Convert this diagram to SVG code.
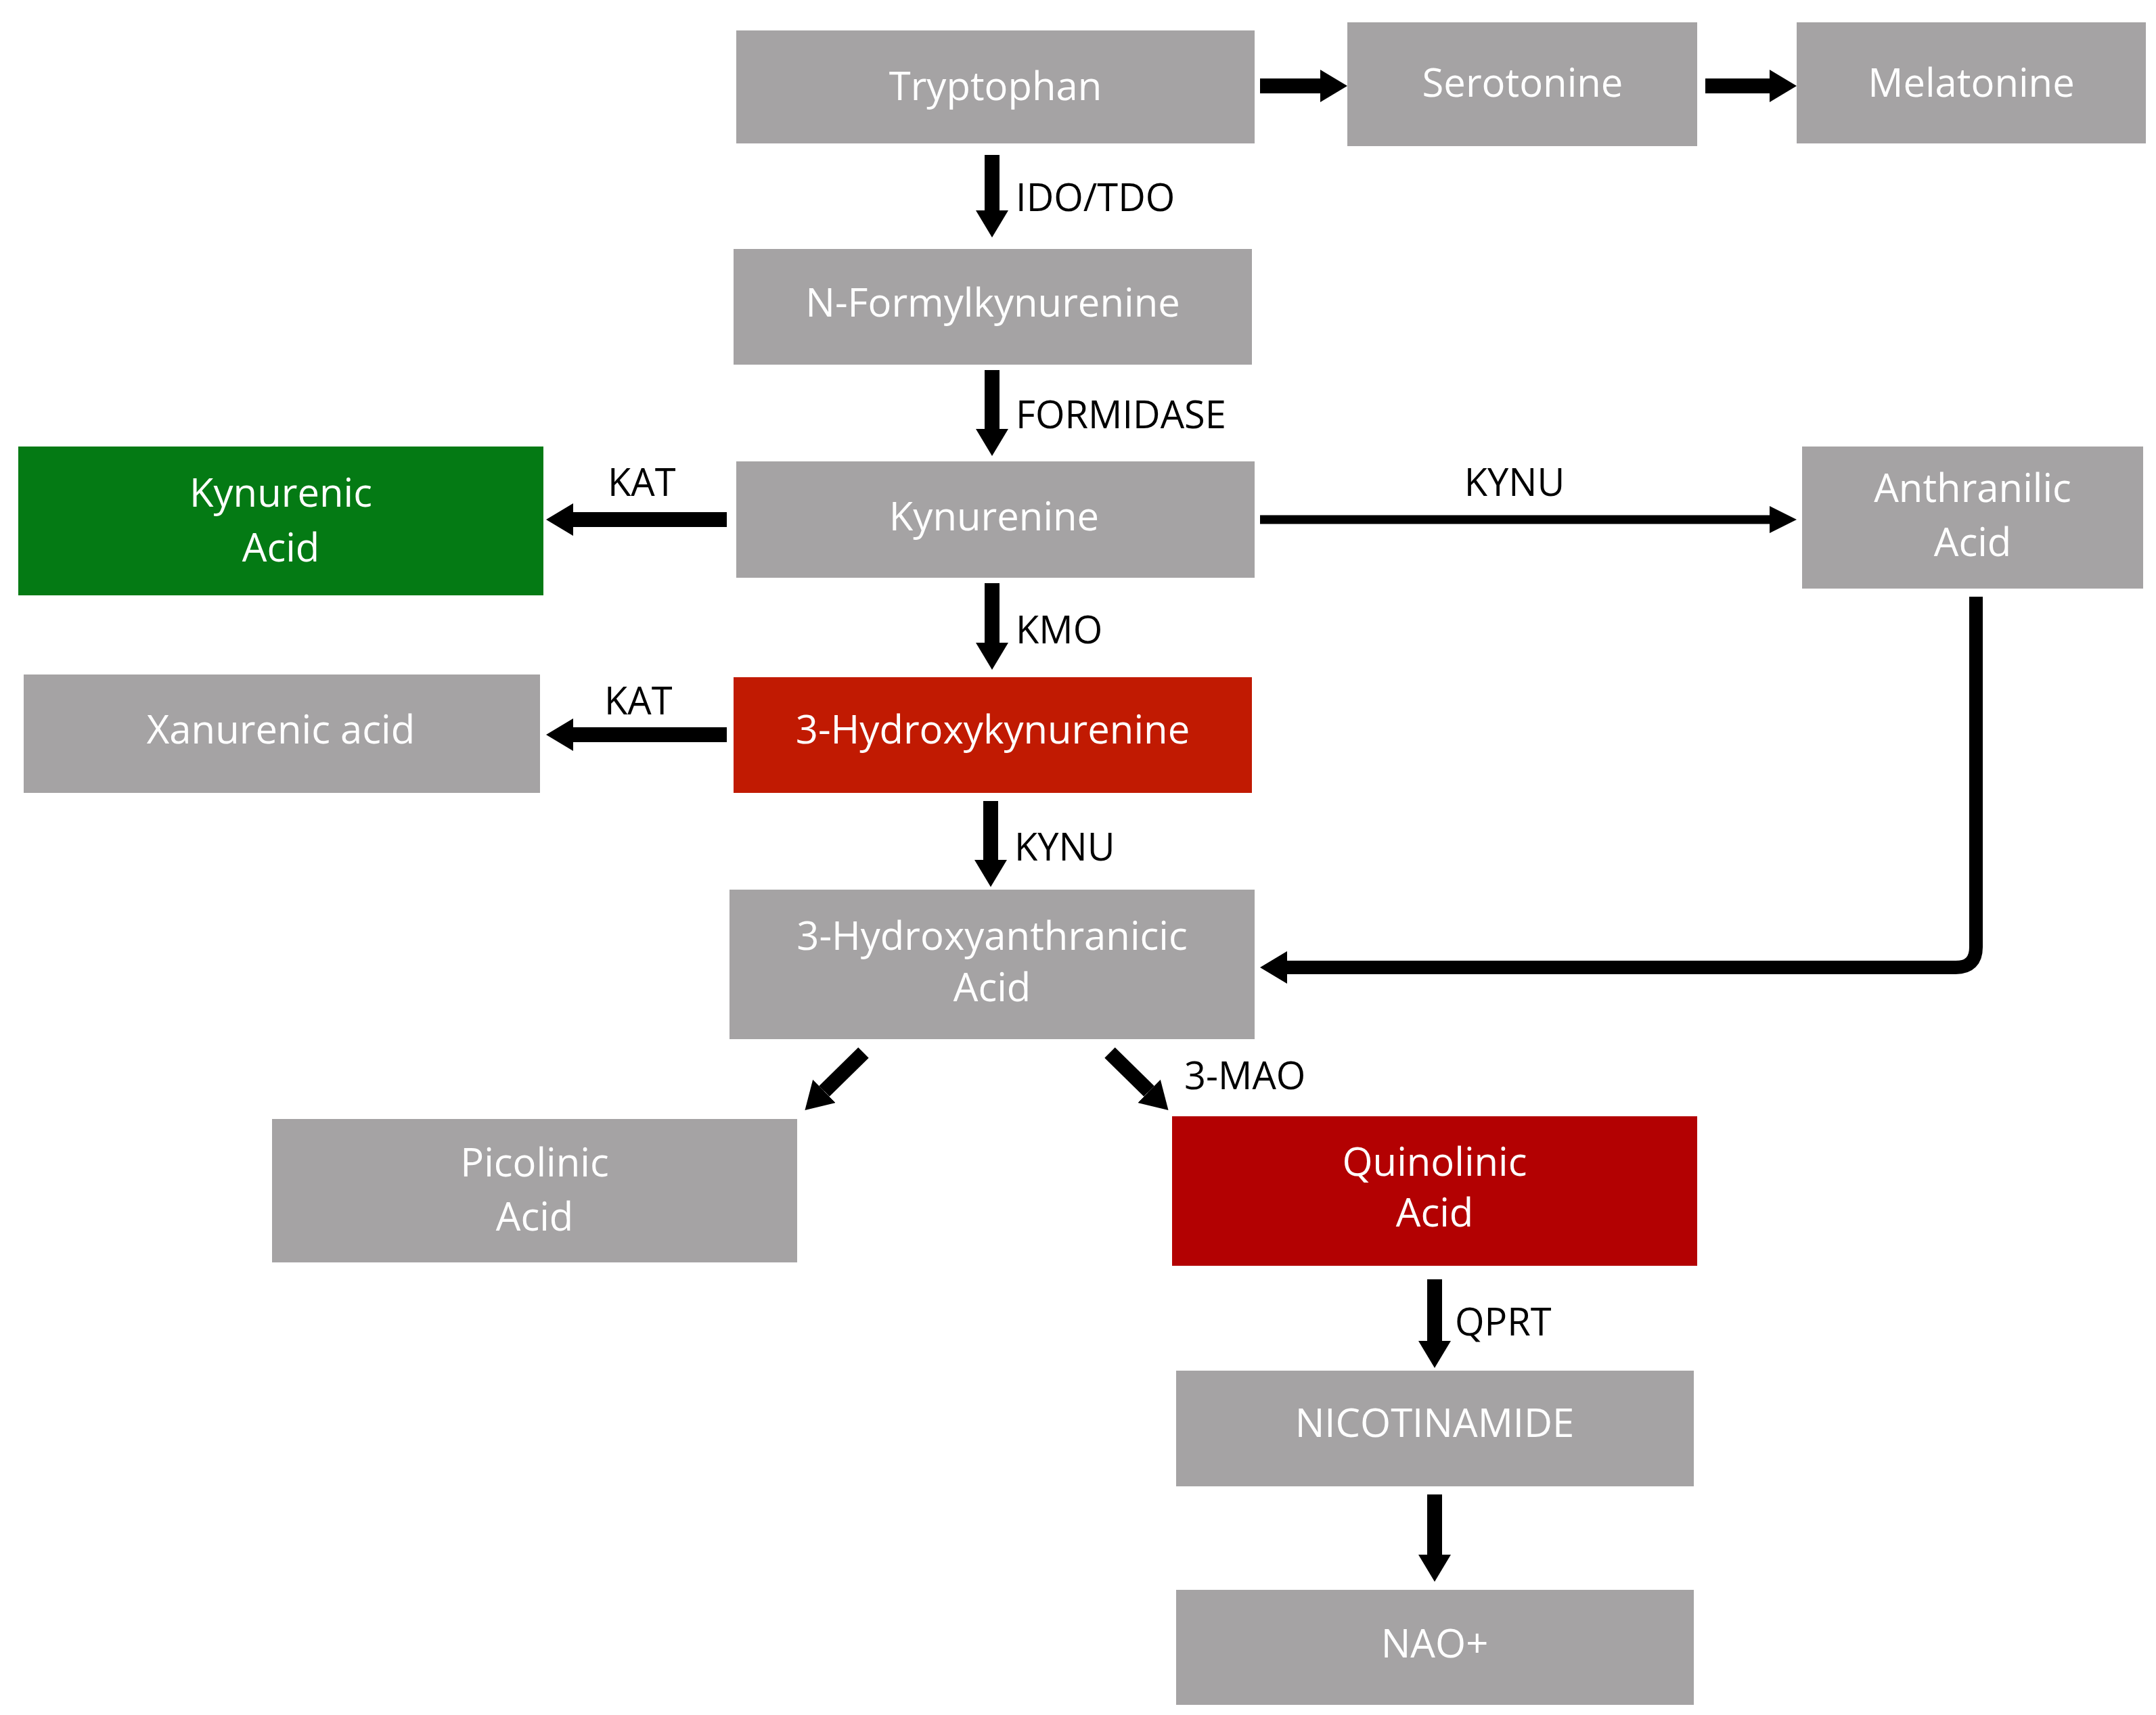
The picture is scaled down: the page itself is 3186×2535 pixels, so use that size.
<svg xmlns="http://www.w3.org/2000/svg" width="3186" height="2535" viewBox="0 0 3186 2535">
<style>
.n{fill:#a5a3a4}
.t{font-family:"Open Sans","Noto Sans",sans-serif;font-size:58px;fill:#fff;text-anchor:middle}
.l{font-family:"Open Sans","Noto Sans",sans-serif;font-size:56px;fill:#000}
.c{stroke:#000;fill:none;stroke-width:22;marker-end:url(#h)}
.k{stroke:#000;fill:none;stroke-width:13;marker-end:url(#h2)}
</style>
<defs>
<marker id="h" markerUnits="userSpaceOnUse" viewBox="0 0 40 48" markerWidth="40" markerHeight="48" refX="0" refY="24" orient="auto"><path d="M0,0 L40,24 L0,48 z"/></marker>
<marker id="h2" markerUnits="userSpaceOnUse" viewBox="0 0 40 40" markerWidth="40" markerHeight="40" refX="0" refY="20" orient="auto"><path d="M0,0 L40,20 L0,40 z"/></marker>
</defs>
<rect width="3186" height="2535" fill="#fff"/>
<g id="tryptophan"><rect class="n" x="1088" y="45" width="766" height="167"/><text class="t" x="1471" y="148">Tryptophan</text></g>
<g id="serotonine"><rect class="n" x="1991" y="33" width="517" height="183"/><text class="t" x="2250" y="143">Serotonine</text></g>
<g id="melatonine"><rect class="n" x="2655" y="33" width="516" height="179"/><text class="t" x="2913" y="143">Melatonine</text></g>
<g id="nformyl"><rect class="n" x="1084" y="368" width="766" height="171"/><text class="t" x="1467" y="468">N-Formylkynurenine</text></g>
<g id="kynurenine"><rect class="n" x="1088" y="682" width="766" height="172"/><text class="t" x="1469" y="784">Kynurenine</text></g>
<g id="kynurenic"><rect fill="#047a14" x="27" y="660" width="776" height="220"/><text class="t" x="415" y="749">Kynurenic</text><text class="t" x="415" y="830">Acid</text></g>
<g id="anthranilic"><rect class="n" x="2663" y="660" width="504" height="210"/><text class="t" x="2915" y="742">Anthranilic</text><text class="t" x="2915" y="822">Acid</text></g>
<g id="xanurenic"><rect class="n" x="35" y="997" width="763" height="175"/><text class="t" x="415" y="1099">Xanurenic acid</text></g>
<g id="hydroxykyn"><rect fill="#c11a02" x="1084" y="1001" width="766" height="171"/><text class="t" x="1467" y="1099">3-Hydroxykynurenine</text></g>
<g id="haa"><rect class="n" x="1078" y="1315" width="776" height="221"/><text class="t" x="1466" y="1404">3-Hydroxyanthranicic</text><text class="t" x="1466" y="1480">Acid</text></g>
<g id="picolinic"><rect class="n" x="402" y="1654" width="776" height="212"/><text class="t" x="790" y="1739">Picolinic</text><text class="t" x="790" y="1819">Acid</text></g>
<g id="quinolinic"><rect fill="#b30102" x="1732" y="1650" width="776" height="221"/><text class="t" x="2120" y="1738">Quinolinic</text><text class="t" x="2120" y="1813">Acid</text></g>
<g id="nicotinamide"><rect class="n" x="1738" y="2026" width="765" height="171"/><text class="t" x="2120" y="2124">NICOTINAMIDE</text></g>
<g id="nao"><rect class="n" x="1738" y="2350" width="765" height="170"/><text class="t" x="2120" y="2450">NAO+</text></g>
<g id="connectors">
<line class="c" x1="1862" y1="127" x2="1951" y2="127"/>
<line class="c" x1="2520" y1="127" x2="2615" y2="127"/>
<line class="c" x1="1466" y1="229" x2="1466" y2="311"/>
<line class="c" x1="1466" y1="547" x2="1466" y2="634"/>
<line class="c" x1="1074" y1="768" x2="847" y2="768"/>
<line class="k" x1="1862" y1="768" x2="2615" y2="768"/>
<line class="c" x1="1466" y1="862" x2="1466" y2="950"/>
<line class="c" x1="1074" y1="1086" x2="847" y2="1086"/>
<line class="c" x1="1464" y1="1184" x2="1464" y2="1271"/>
<path d="M2920,882 V1400 Q2920,1430 2890,1430 H1902" stroke="#000" stroke-width="20" fill="none" marker-end="url(#h)"/>
<line class="c" x1="1276" y1="1556" x2="1218" y2="1613"/>
<line class="c" x1="1640" y1="1556" x2="1698" y2="1613"/>
<line class="c" x1="2120" y1="1891" x2="2120" y2="1982"/>
<line class="c" x1="2120" y1="2209" x2="2120" y2="2298"/>
<text class="l" x="1501" y="312">IDO/TDO</text>
<text class="l" x="1501" y="633">FORMIDASE</text>
<text class="l" x="898" y="733">KAT</text>
<text class="l" x="2238" y="733" text-anchor="middle">KYNU</text>
<text class="l" x="1501" y="951">KMO</text>
<text class="l" x="893" y="1056">KAT</text>
<text class="l" x="1499" y="1272">KYNU</text>
<text class="l" x="1750" y="1610">3-MAO</text>
<text class="l" x="2150" y="1974">QPRT</text>
</g>
</svg>
